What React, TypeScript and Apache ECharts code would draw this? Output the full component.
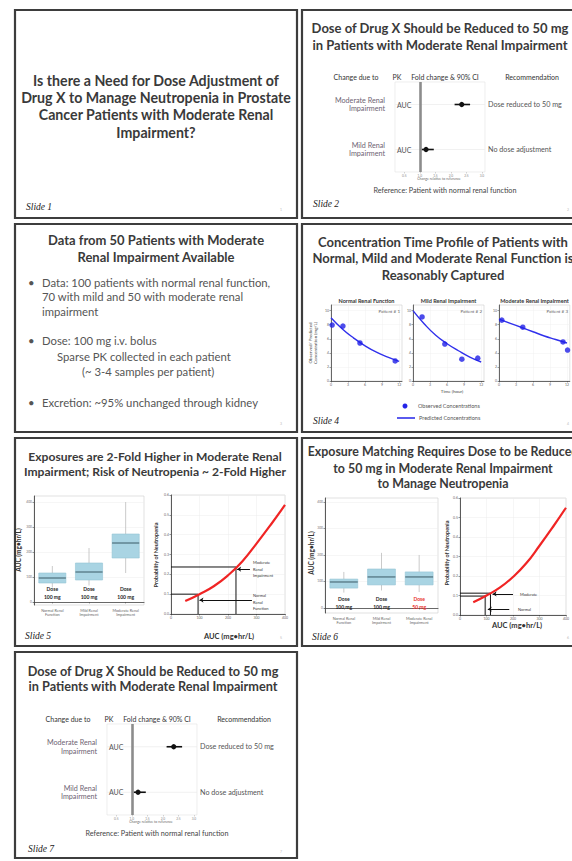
import React, { useEffect, useRef } from "react";
import * as echarts from "echarts";

// ================= DATA =================
// Slide 1
const slide1Title = [
  "Is there a Need for Dose Adjustment of",
  "Drug X to Manage Neutropenia in Prostate",
  "Cancer Patients with Moderate Renal",
  "Impairment?",
];

// Slides 2 and 7 - forest plot
const forestTitle = ["Dose of Drug X Should be Reduced to 50 mg", "in Patients with Moderate Renal Impairment"];
const forestHeaders = ["Change due to", "PK", "Fold change & 90% CI", "Recommendation"];
const forestRows = ["Moderate Renal\nImpairment", "Mild Renal\nImpairment"];
const forestPK = ["AUC", "AUC"];
const forestFold = [2.35, 1.2];
const forestLow = [2.12, 1.06];
const forestHigh = [2.62, 1.45];
const forestRecommend = ["Dose reduced to 50 mg", "No dose adjustment"];
const forestTicks = [0.5, 1.0, 1.5, 2.0, 2.5, 3.0];
const forestReference = 1.0;
const forestAxisTitle = "Change relative to reference";
const forestNote = "Reference: Patient with normal renal function";

// Slide 3
const slide3Title = ["Data from 50 Patients with Moderate", "Renal Impairment Available"];
const slide3Bullet1 = ["Data: 100 patients with normal renal function,", "70 with mild and 50 with moderate renal", "impairment"];
const slide3Bullet2 = ["Dose: 100 mg i.v. bolus", "Sparse PK collected in each patient", "(~ 3-4 samples per patient)"];
const slide3Bullet3 = ["Excretion: ~95% unchanged through kidney"];

// Slide 4 - concentration-time profiles
const pkTitle = ["Concentration Time Profile of Patients with", "Normal, Mild and Moderate Renal Function is", "Reasonably Captured"];
const pkPanels = ["Normal Renal Function", "Mild Renal Impairment", "Moderate Renal Impairment"];
const pkPatients = ["Patient # 1", "Patient # 2", "Patient # 3"];
const obsNormal = [[0.2, 7.95], [2.1, 7.8], [5.1, 5.4], [11.3, 2.85]];
const obsMild = [[1.6, 9.1], [5.6, 5.25], [8.6, 3.1], [11.4, 3.25]];
const obsModerate = [[0.5, 8.65], [4.2, 7.65], [11.3, 5.55], [12.1, 4.4]];
const predTimes = [0, 2, 4, 6, 8, 10, 12];
const predNormal = [9.0, 7.4, 6.1, 5.0, 4.1, 3.4, 2.8];
const predMild = [10.0, 8.1, 6.5, 5.3, 4.3, 3.4, 2.7];
const predModerate = [8.8, 8.2, 7.6, 7.0, 6.4, 5.9, 5.4];
const timeTicks = [0, 3, 6, 9, 12];
const concTicks = [0, 2, 4, 6, 8, 10];
const pkYTitle = "Observed/ Predicted\nConcentration (mg/L)";
const pkXTitle = "Time (hour)";
const pkLegend = ["Observed Concentrations", "Predicted Concentrations"];

// Slides 5 and 6 - exposure box plots and exposure-response curve
const slide5Title = ["Exposures are 2-Fold Higher in Moderate Renal", "Impairment; Risk of Neutropenia ~ 2-Fold Higher"];
const slide6Title = ["Exposure Matching Requires Dose to be Reduced", "to 50 mg in Moderate Renal Impairment", "to Manage Neutropenia"];
const boxCategories = ["Normal Renal\nFunction", "Mild Renal\nImpairment", "Moderate Renal\nImpairment"];
// [low whisker, Q1, median, Q3, high whisker]
const boxStats5 = [
  [58, 76, 96, 116, 144],
  [66, 88, 120, 156, 216],
  [116, 176, 236, 272, 400],
];
const boxStats6 = [
  [58, 75, 98, 109, 136],
  [66, 87, 117, 147, 208],
  [60, 87, 117, 136, 200],
];
const doseLabels5 = ["Dose\n100 mg", "Dose\n100 mg", "Dose\n100 mg"];
const doseLabels6 = ["Dose\n100 mg", "Dose\n100 mg", "Dose\n50 mg"];
const aucBoxTicks = [0, 100, 200, 300, 400];
const aucGrid = [50, 100, 150, 200, 250, 300, 350, 400];
const probNeutropenia = [0.065, 0.1, 0.14, 0.195, 0.265, 0.355, 0.45, 0.55];
const refAUC5 = [95, 228];
const refProb5 = [0.1, 0.237];
const refAUC6 = [95, 115];
const refProb6 = [0.097, 0.112];
const arrowFrom5 = [277, 284];
const arrowTo5 = [232, 100];
const arrowY5 = [0.226, 0.07];
const arrowFrom6 = [200, 186];
const arrowTo6 = [123, 105];
const arrowY6 = [0.108, 0.03];
const aucTitle = "AUC (mg\u2022hr/L)";
const probTitle = "Probability of Neutropenia";

// ================= HELPERS =================
const F = "Lato, 'Open Sans', 'DejaVu Sans', sans-serif";
const SF = "'Liberation Serif', 'DejaVu Serif', serif";

const inTicks = (ticks: number[], v: number) => ticks.some((t) => Math.abs(t - v) < 1e-6);
const fmt = (ticks: number[], digits: number) => (v: number) => (inTicks(ticks, v) ? v.toFixed(digits) : "");

function T(text: string, x: number, y: number, o: any = {}) {
  const align = o.align ?? "left";
  const valign = o.valign ?? "middle";
  const style: any = {
    text,
    fill: o.color ?? "#333",
    fontSize: o.size ?? 7,
    fontWeight: o.weight ?? "normal",
    fontStyle: o.italic ? "italic" : "normal",
    fontFamily: o.family ?? F,
    align,
    verticalAlign: valign,
    textAlign: align,
    textVerticalAlign: valign,
  };
  if (o.lh) style.lineHeight = o.lh;
  return { type: "text", x, y, z: 100, silent: true, rotation: o.rot ?? 0, style };
}

function buildOption() {
  const G: any[] = [];
  const slides = [
    [15, 10], [302, 10], [15, 224], [302, 224], [15, 438], [302, 438], [15, 652],
  ];
  slides.forEach(([x, y], i) => {
    G.push({
      type: "rect", z: 1, silent: true,
      shape: { x, y, width: 282, height: i === 6 ? 206 : 208 },
      style: { fill: "none", stroke: "#3d3d3d", lineWidth: 2.2 },
    });
    G.push(T(String(i + 1), x + 265, y + 200, { size: 3.5, color: "#bbb" }));
  });
  // slide labels
  const slideLbl: [string, number, number][] = [
    ["Slide 1", 26, 207], ["Slide 2", 313, 204], ["Slide 4", 313, 421],
    ["Slide 5", 25, 636], ["Slide 6", 312, 637], ["Slide 7", 28, 849],
  ];
  slideLbl.forEach(([t, x, y]) => G.push(T(t, x, y, { size: 9.5, italic: true, family: SF, color: "#222" })));

  const title = (lines: string[], cx: number, ys: number[], size: number) =>
    lines.forEach((l, i) => G.push(T(l, cx, ys[i], { size, weight: "bold", color: "#3a3a3a", align: "center" })));
  title(slide1Title, 156, [80, 97, 114, 132], 14.2);
  title(forestTitle, 440, [28, 45], 13);
  title(slide3Title, 156, [240, 257], 13);
  title(pkTitle, 443, [242, 258, 275], 13);
  title(slide5Title, 155, [456, 471], 12.1);
  title(slide6Title, 443, [451, 468, 483], 12.4);
  title(forestTitle, 153, [671, 686], 12.7);

  // slide 3 bullets
  const body = { size: 11.3, color: "#555" };
  G.push(T("\u2022", 28, 282, body));
  slide3Bullet1.forEach((l, i) => G.push(T(l, 42, 282 + i * 14.5, body)));
  G.push(T("\u2022", 28, 340, body));
  G.push(T(slide3Bullet2[0], 42, 340, body));
  G.push(T(slide3Bullet2[1], 57, 356, body));
  G.push(T(slide3Bullet2[2], 82, 371, body));
  G.push(T("\u2022", 28, 402, body));
  G.push(T(slide3Bullet3[0], 42, 402, body));

  // forest decorations
  const forestDecor = (L: number, top: number, h: number) => {
    const B = top + h;
    const hy = top - 5;
    const hs = { size: 7, color: "#333", align: "center" };
    G.push(T(forestHeaders[0], L - 39, hy, hs));
    G.push(T(forestHeaders[1], L + 2, hy, hs));
    G.push(T(forestHeaders[2], L + 50, hy, hs));
    G.push(T(forestHeaders[3], L + 137, hy, hs));
    G.push(T(forestAxisTitle, L + 44, B + 7, { size: 3.5, color: "#666", align: "center" }));
    G.push(T(forestNote, L + 50, B + 18, { size: 7.2, color: "#444", align: "center" }));
  };
  forestDecor(395, 82, 90);
  forestDecor(107, 724, 91);

  // slide 4 decorations
  const pkLeft = [331, 413, 499];
  pkLeft.forEach((l, i) => {
    G.push(T(pkPanels[i], l + 35.5, 300.5, { size: 5.5, weight: "bold", color: "#333", align: "center" }));
    G.push(T(pkPatients[i], l + 69, 311, { size: 4.5, color: "#666", align: "right" }));
  });
  G.push(T(pkYTitle, 313, 343, { size: 4.5, color: "#444", align: "center", rot: Math.PI / 2, lh: 5.5 }));
  G.push(T(pkXTitle, 452, 391, { size: 4.5, color: "#444", align: "center" }));
  G.push({ type: "circle", z: 100, silent: true, shape: { cx: 405, cy: 406, r: 2.5 }, style: { fill: "#2323e8" } });
  G.push(T(pkLegend[0], 418, 406, { size: 5.5, color: "#555" }));
  G.push({ type: "line", z: 100, silent: true, shape: { x1: 397, y1: 418, x2: 415, y2: 418 }, style: { stroke: "#2323e8", lineWidth: 1.5 } });
  G.push(T(pkLegend[1], 419, 418, { size: 5.5, color: "#555" }));

  // slide 5 / 6 decorations
  G.push(T(aucTitle, 18, 550, { size: 6.5, weight: "bold", align: "center", rot: Math.PI / 2 }));
  G.push(T(probTitle, 156, 555, { size: 5.5, weight: "bold", align: "center", rot: Math.PI / 2 }));
  G.push(T(aucTitle, 229, 636, { size: 7.5, weight: "bold", align: "center" }));
  G.push(T("Moderate\nRenal\nImpairment", 253, 569, { size: 4, lh: 6.5 }));
  G.push(T("Normal\nRenal\nFunction", 253, 602, { size: 4, lh: 6.5 }));
  G.push(T(aucTitle, 311, 553, { size: 6.5, weight: "bold", align: "center", rot: Math.PI / 2 }));
  G.push(T(probTitle, 447, 553, { size: 5.5, weight: "bold", align: "center", rot: Math.PI / 2 }));
  G.push(T(aucTitle, 517, 625, { size: 7.5, weight: "bold", align: "center" }));
  G.push(T("Moderate", 520, 594, { size: 4 }));
  G.push(T("Normal", 518, 609, { size: 4 }));

  // ================= GRIDS =================
  const gb = { show: true, backgroundColor: "#fff", borderColor: "#cfcfcf", borderWidth: 0.6, containLabel: false };
  const grid = [
    { ...gb, left: 395, top: 82, width: 90, height: 90, borderColor: "#e2e2e2" },
    { ...gb, left: 331, top: 305, width: 71, height: 76 },
    { ...gb, left: 413, top: 305, width: 71, height: 76 },
    { ...gb, left: 499, top: 305, width: 71, height: 76 },
    { ...gb, left: 34, top: 496, width: 110, height: 109 },
    { ...gb, left: 171, top: 495, width: 114, height: 119 },
    { ...gb, left: 325, top: 498, width: 113, height: 115 },
    { ...gb, left: 460, top: 498, width: 114, height: 117 },
    { ...gb, left: 107, top: 724, width: 90, height: 91, borderColor: "#e2e2e2" },
  ];

  const forestX = (g: number) => ({
    type: "value", gridIndex: g, min: 0.2, max: 3.1,
    axisLine: { show: false }, splitLine: { show: false },
    axisTick: { show: true, customValues: forestTicks, length: 1.5, lineStyle: { color: "#aaa", width: 0.5 } },
    axisLabel: { customValues: forestTicks, formatter: fmt(forestTicks, 1), fontSize: 3.2, color: "#888", margin: 2, fontFamily: F },
  });
  const pkX = (g: number) => ({
    type: "value", gridIndex: g, min: 0, max: 12.5,
    axisLine: { show: true, lineStyle: { color: "#444", width: 0.8 } },
    axisTick: { show: true, customValues: timeTicks, length: 1.5, lineStyle: { color: "#444", width: 0.5 } },
    axisLabel: { customValues: timeTicks, formatter: fmt(timeTicks, 0), fontSize: 3.5, color: "#666", margin: 2, fontFamily: F },
    splitLine: { show: true, lineStyle: { color: "#f0f0f0", width: 0.5 } },
  });
  const boxX = (g: number) => ({
    type: "category", gridIndex: g, data: boxCategories,
    axisLine: { show: true, lineStyle: { color: "#444", width: 0.8 } },
    axisTick: { show: true, alignWithLabel: true, length: 1.5, lineStyle: { color: "#444", width: 0.5 } },
    axisLabel: { interval: 0, fontSize: 3.8, lineHeight: 4.5, color: "#666", margin: 3, fontFamily: F },
    splitLine: { show: false },
  });
  const aucX = (g: number) => ({
    type: "value", gridIndex: g, min: 0, max: 400, interval: 100,
    axisLine: { show: true, lineStyle: { color: "#333", width: 0.8 } },
    axisTick: { show: true, length: 1.5, lineStyle: { color: "#333", width: 0.5 } },
    axisLabel: { fontSize: 3.5, color: "#666", margin: 2, fontFamily: F },
    splitLine: { show: true, lineStyle: { color: "#ececec", width: 0.5 } },
  });
  const xAxis = [forestX(0), pkX(1), pkX(2), pkX(3), boxX(4), aucX(5), boxX(6), aucX(7), forestX(8)];

  const forestYL = (g: number) => ({
    type: "category", gridIndex: g, inverse: true, data: forestRows,
    axisLine: { show: false }, axisTick: { show: false }, splitLine: { show: false },
    axisLabel: { fontSize: 7.2, lineHeight: 8.5, color: "#6d6373", margin: 10, fontFamily: F },
  });
  const forestYR = (g: number) => ({
    type: "category", gridIndex: g, position: "right", inverse: true, data: forestRecommend,
    axisLine: { show: false }, axisTick: { show: false }, splitLine: { show: false },
    axisLabel: { fontSize: 7.2, color: "#555", margin: 3, fontFamily: F },
  });
  const pkY = (g: number) => ({
    type: "value", gridIndex: g, min: 0, max: 10.8,
    axisLine: { show: true, lineStyle: { color: "#444", width: 0.8 } },
    axisTick: { show: true, customValues: concTicks, length: 1.5, lineStyle: { color: "#444", width: 0.5 } },
    axisLabel: { customValues: concTicks, formatter: fmt(concTicks, 0), fontSize: 3.5, color: "#666", margin: 2, fontFamily: F },
    splitLine: { show: true, lineStyle: { color: "#f0f0f0", width: 0.5 } },
  });
  const boxY = (g: number, min: number, max: number) => ({
    type: "value", gridIndex: g, min, max,
    axisLine: { show: true, lineStyle: { color: "#333", width: 0.8 } },
    axisTick: { show: true, customValues: aucBoxTicks, length: 1.5, lineStyle: { color: "#333", width: 0.5 } },
    axisLabel: { customValues: aucBoxTicks, formatter: fmt(aucBoxTicks, 0), fontSize: 3.3, color: "#777", margin: 2, fontFamily: F },
    splitLine: { show: true, lineStyle: { color: "#ececec", width: 0.5 } },
  });
  const probY = (g: number) => ({
    type: "value", gridIndex: g, min: 0, max: 0.6, interval: 0.1,
    axisLine: { show: true, lineStyle: { color: "#333", width: 0.8 } },
    axisTick: { show: true, length: 1.5, lineStyle: { color: "#333", width: 0.5 } },
    axisLabel: { formatter: (v: number) => v.toFixed(1), fontSize: 3.5, color: "#666", margin: 2, fontFamily: F },
    splitLine: { show: true, lineStyle: { color: "#ececec", width: 0.5 } },
  });
  const yAxis = [
    forestYL(0), forestYR(0), pkY(1), pkY(2), pkY(3), boxY(4, -12, 424), probY(5), boxY(6, -19, 415), probY(7),
    forestYL(8), forestYR(8),
  ];

  // ================= SERIES =================
  const forestRender = (params: any, api: any) => {
    const row = api.value(0);
    const pF = api.coord([api.value(1), row]);
    const pL = api.coord([api.value(2), row]);
    const pH = api.coord([api.value(3), row]);
    const cs = params.coordSys;
    return {
      type: "group",
      children: [
        { type: "line", shape: { x1: cs.x, y1: pF[1], x2: cs.x + cs.width, y2: pF[1] }, style: { stroke: "#ededed", lineWidth: 0.8 } },
        { type: "line", shape: { x1: pL[0], y1: pL[1], x2: pH[0], y2: pH[1] }, style: { stroke: "#111", lineWidth: 1.6 } },
        { type: "circle", shape: { cx: pF[0], cy: pF[1], r: 2.6 }, style: { fill: "#111" } },
        {
          type: "text", x: cs.x + 2, y: pF[1],
          style: { text: forestPK[params.dataIndex], fill: "#555", fontSize: 7, fontFamily: F, align: "left", verticalAlign: "middle", textAlign: "left", textVerticalAlign: "middle" },
        },
      ],
    };
  };
  const forestSeries = (xi: number, yi: number) => ({
    type: "custom", xAxisIndex: xi, yAxisIndex: yi, z: 3,
    data: forestRows.map((_, i) => [i, forestFold[i], forestLow[i], forestHigh[i]]),
    encode: { y: 0, x: [1, 2, 3] },
    renderItem: forestRender,
    markLine: {
      silent: true, symbol: "none", label: { show: false },
      lineStyle: { color: "#8c8c8c", width: 2.6, type: "solid" },
      data: [{ xAxis: forestReference }],
    },
  });

  const pkObs = [obsNormal, obsMild, obsModerate];
  const pkPred = [predNormal, predMild, predModerate];
  const pkSeries: any[] = [];
  pkObs.forEach((obs, i) => {
    pkSeries.push({
      type: "line", xAxisIndex: 1 + i, yAxisIndex: 2 + i, smooth: true, showSymbol: false,
      data: predTimes.map((t, j) => [t, pkPred[i][j]]),
      lineStyle: { color: "#3030ec", width: 1.4 }, z: 3,
    });
    pkSeries.push({
      type: "scatter", xAxisIndex: 1 + i, yAxisIndex: 2 + i, data: obs, symbolSize: 5.5,
      itemStyle: { color: "#1f1fe6" }, z: 4,
    });
  });

  const boxRender = (params: any, api: any) => {
    const c = api.value(0);
    const v = [1, 2, 3, 4, 5].map((k) => api.value(k));
    const x = api.coord([c, v[2]])[0];
    const ys = v.map((val) => api.coord([c, val])[1]);
    const w = api.size([1, 0])[0] * 0.74;
    return {
      type: "group",
      children: [
        { type: "line", shape: { x1: x, y1: ys[4], x2: x, y2: ys[3] }, style: { stroke: "#bdbdbd", lineWidth: 0.8 } },
        { type: "line", shape: { x1: x, y1: ys[1], x2: x, y2: ys[0] }, style: { stroke: "#bdbdbd", lineWidth: 0.8 } },
        { type: "rect", shape: { x: x - w / 2, y: ys[3], width: w, height: ys[1] - ys[3] }, style: { fill: "#a9d4e3", stroke: "#93c4d5", lineWidth: 0.6 } },
        { type: "line", shape: { x1: x - w / 2, y1: ys[2], x2: x + w / 2, y2: ys[2] }, style: { stroke: "#3b5a66", lineWidth: 1 } },
      ],
    };
  };
  const boxSeries = (xi: number, yi: number, stats: number[][]) => ({
    type: "custom", xAxisIndex: xi, yAxisIndex: yi, z: 3,
    data: stats.map((s, i) => [i, ...s]),
    encode: { x: 0, y: [1, 2, 3, 4, 5] },
    renderItem: boxRender,
  });
  const doseSeries = (xi: number, yi: number, labels: string[], colors: string[], yv: number) => ({
    type: "custom", xAxisIndex: xi, yAxisIndex: yi, z: 5,
    data: labels.map((_, i) => [i, yv]),
    encode: { x: 0, y: 1 },
    renderItem: (params: any, api: any) => {
      const p = api.coord([api.value(0), api.value(1)]);
      return {
        type: "text", x: p[0], y: p[1],
        style: {
          text: labels[params.dataIndex], fill: colors[params.dataIndex], fontSize: 5, fontWeight: "bold", fontFamily: F,
          lineHeight: 8, align: "center", verticalAlign: "middle", textAlign: "center", textVerticalAlign: "middle",
        },
      };
    },
  });
  const curveSeries = (xi: number, yi: number) => ({
    type: "line", xAxisIndex: xi, yAxisIndex: yi, smooth: true, showSymbol: false, z: 5,
    data: aucGrid.map((a, i) => [a, probNeutropenia[i]]),
    lineStyle: { color: "#f02424", width: 2.2 },
  });
  const refSeries = (xi: number, yi: number, auc: number, p: number, arrows?: any[]) => {
    const s: any = {
      type: "line", xAxisIndex: xi, yAxisIndex: yi, symbol: "none", z: 4,
      data: [[0, p], [auc, p], [auc, 0]],
      lineStyle: { color: "#111", width: 1 },
    };
    if (arrows) {
      s.markLine = {
        silent: true, symbol: ["none", "arrow"], symbolSize: 4, label: { show: false },
        lineStyle: { color: "#111", width: 1, type: "solid" },
        data: arrows,
      };
    }
    return s;
  };
  const arrows5 = arrowFrom5.map((f, i) => [{ coord: [f, arrowY5[i]] }, { coord: [arrowTo5[i], arrowY5[i]] }]);
  const arrows6 = arrowFrom6.map((f, i) => [{ coord: [f, arrowY6[i]] }, { coord: [arrowTo6[i], arrowY6[i]] }]);

  const series = [
    forestSeries(0, 0),
    ...pkSeries,
    boxSeries(4, 5, boxStats5),
    doseSeries(4, 5, doseLabels5, ["#222", "#222", "#222"], 36),
    curveSeries(5, 6),
    refSeries(5, 6, refAUC5[0], refProb5[0], arrows5),
    refSeries(5, 6, refAUC5[1], refProb5[1]),
    boxSeries(6, 7, boxStats6),
    doseSeries(6, 7, doseLabels6, ["#222", "#222", "#e8312b"], 19),
    curveSeries(7, 8),
    refSeries(7, 8, refAUC6[0], refProb6[0], arrows6),
    refSeries(7, 8, refAUC6[1], refProb6[1]),
    forestSeries(8, 9),
  ];

  return {
    animation: false,
    backgroundColor: "#fff",
    textStyle: { fontFamily: F },
    graphic: { elements: G },
    grid,
    xAxis,
    yAxis,
    series,
  };
}

export default function App() {
  const ref = useRef<HTMLDivElement>(null);
  useEffect(() => {
    if (!ref.current) return;
    const chart = echarts.init(ref.current, undefined, { renderer: "svg", width: 572, height: 861 });
    chart.setOption(buildOption() as any);
    return () => chart.dispose();
  }, []);
  return (
    <div
      ref={ref}
      style={{ position: "absolute", left: 0, top: 0, width: 572, height: 861, background: "#fff" }}
    />
  );
}
